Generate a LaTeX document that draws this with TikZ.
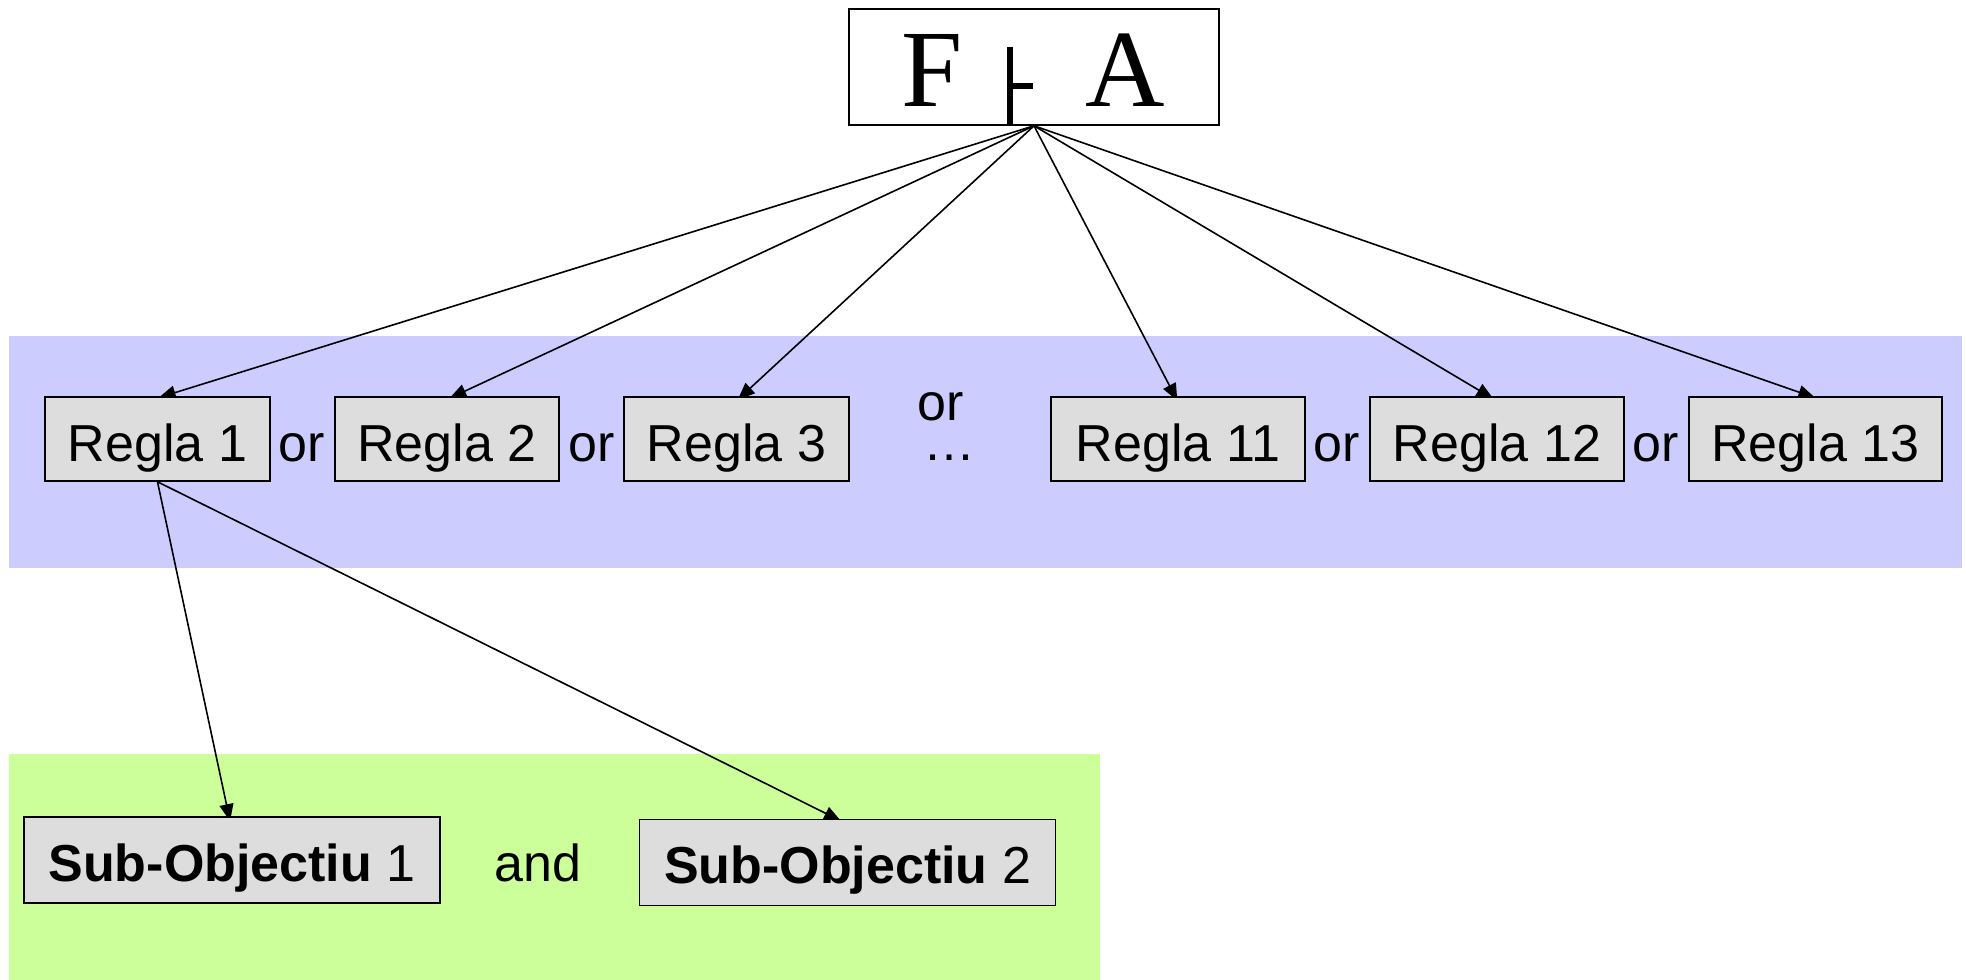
\documentclass[tikz,border=0pt]{standalone}
\usepackage{fontspec}
\setmainfont{Liberation Sans}
\newfontfamily\timesfont{Liberation Serif}
\usetikzlibrary{arrows.meta}
\pgfdeclarelayer{bands}
\pgfdeclarelayer{links}
\pgfsetlayers{bands,links,main}
\definecolor{bandblue}{RGB}{204,204,255}
\definecolor{bandgreen}{RGB}{204,255,153}
\definecolor{boxgray}{RGB}{221,221,221}
\begin{document}
\begin{tikzpicture}[x=1pt,y=-1pt,
  rbox/.style={draw, line width=1.6pt, fill=boxgray, inner sep=0pt,
    font=\fontsize{52}{60}\selectfont, text height=44pt, text depth=0pt,
    minimum height=84pt},
  sbox/.style={rbox, text height=42pt, minimum height=86pt, minimum width=416pt},
  lbl/.style={inner sep=0pt, anchor=base, font=\fontsize{52}{60}\selectfont},
  big/.style={inner sep=0pt, anchor=base west, font=\timesfont\fontsize{110}{120}\selectfont},
  arr/.style={line width=1.6pt, shorten >=-5pt, -{Triangle[length=17pt,width=14pt]}}]
\useasboundingbox (0,0) rectangle (1966,980);
\begin{pgfonlayer}{bands}
\fill[bandblue] (9,336) rectangle (1962,568);
\fill[bandgreen] (9,754) rectangle (1100,980);
\end{pgfonlayer}

% top goal
\node[draw, line width=1.6pt, fill=white, minimum width=370pt, minimum height=116pt, inner sep=0pt] (top) at (1034,67) {};
\node[big] (f) at (901,106) {F};
\node[big] (a) at (1085,106) {A};
\draw[line width=5.5pt] (1010,47) -- (1010,125) (1010,86) -- (1033,86);

% rules
\node[rbox, minimum width=225pt] (r1) at (157.5,439) {Regla 1};
\node[rbox, minimum width=224pt] (r2) at (447,439) {Regla 2};
\node[rbox, minimum width=225pt] (r3) at (736.5,439) {Regla 3};
\node[rbox, minimum width=254pt] (r11) at (1178,439) {Regla 11};
\node[rbox, minimum width=254pt] (r12) at (1497,439) {Regla 12};
\node[rbox, minimum width=253pt] (r13) at (1815.5,439) {Regla 13};

\node[lbl] (or1) at (302,461) {or};
\node[lbl] (or2) at (592,461) {or};
\node[lbl] (or3) at (941,420) {or};
\node[lbl] (dots) at (949,460) {…};
\node[lbl] (or4) at (1337,461) {or};
\node[lbl] (or5) at (1656,461) {or};

% sub goals
\node[sbox] (s1) at (232,860) {\textbf{Sub-Objectiu} 1};
\node[sbox] (s2) at (847.5,862.5) {\textbf{Sub-Objectiu} 2};
\node[lbl] (and) at (538,881) {and};

% arrows (drawn beneath the boxes, so the heads are partly hidden)
\begin{pgfonlayer}{links}
\draw[arr] (top.south) -- ([xshift=6pt]r1.north);
\draw[arr] (top.south) -- ([xshift=7pt]r2.north);
\draw[arr] (top.south) -- ([xshift=5pt]r3.north);
\draw[arr] (top.south) -- ([xshift=-3pt]r11.north);
\draw[arr] (top.south) -- ([xshift=-8pt]r12.north);
\draw[arr] (top.south) -- ([xshift=-5pt]r13.north);
\draw[arr] (r1.south) -- ([xshift=-3pt]s1.north);
\draw[arr] (r1.south) -- ([xshift=-11pt]s2.north);
\end{pgfonlayer}
\end{tikzpicture}
\end{document}
